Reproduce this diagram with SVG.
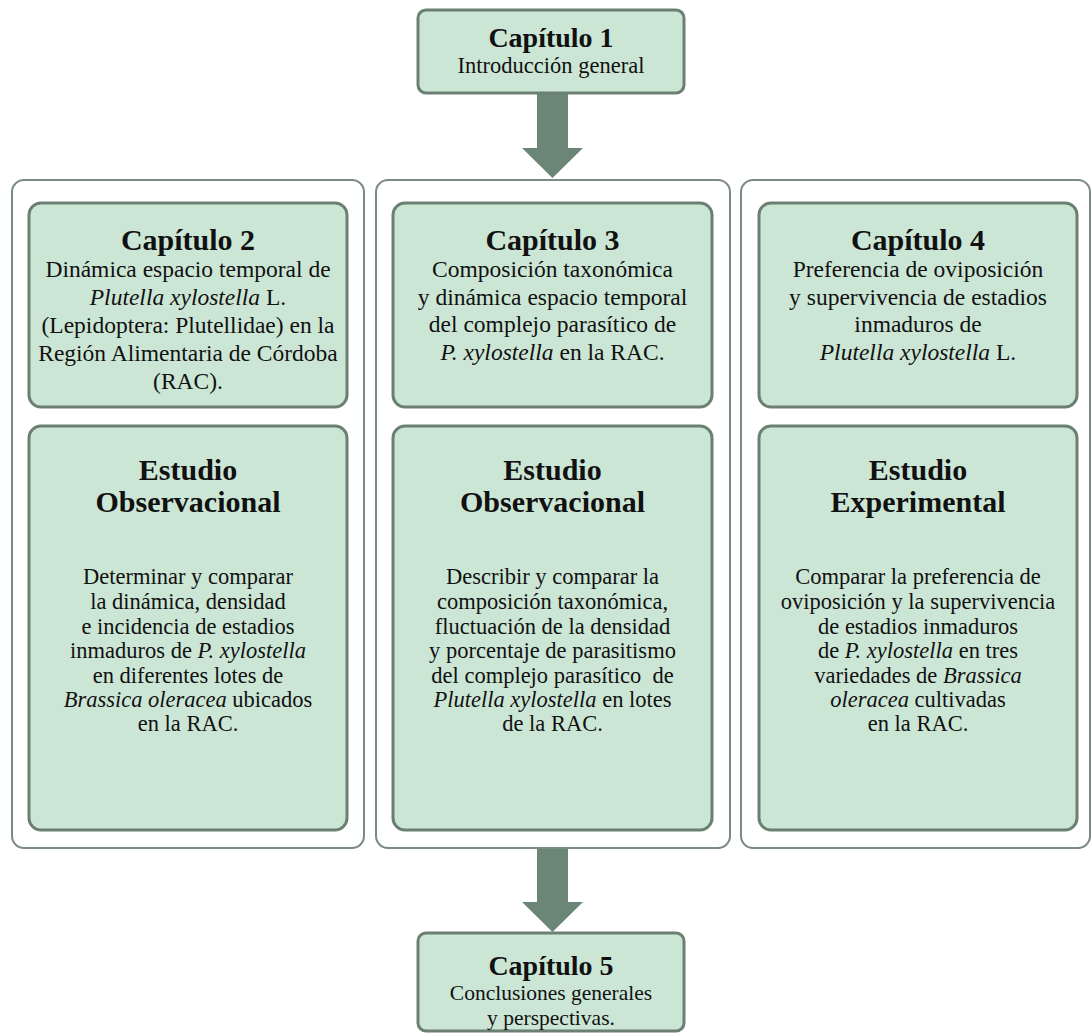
<svg xmlns="http://www.w3.org/2000/svg" width="1091" height="1036" viewBox="0 0 1091 1036">
<style>
.outer{fill:#fff;stroke:#7b8a82;stroke-width:2}
.box{fill:#cce6d6;stroke:#6b8073;stroke-width:3}
.arrow{fill:#6b8577}
text{font-family:"Liberation Serif","Times New Roman",serif;fill:#111;text-anchor:middle}
.h1{font-size:28px;font-weight:bold}
.h{font-size:30px;font-weight:bold}
.t{font-size:23.5px}
.s{font-size:22.5px}
.c5{font-size:21.5px}
.i{font-style:italic}
</style>
<rect width="1091" height="1036" fill="#fff"/>
<g id="col1"><rect class="outer" x="12" y="180" width="352" height="668" rx="12"/></g>
<g id="col2"><rect class="outer" x="376" y="180" width="354" height="668" rx="12"/></g>
<g id="col3"><rect class="outer" x="741" y="180" width="349" height="668" rx="12"/></g>

<g id="cap1">
<rect class="box" x="418" y="10" width="266" height="83" rx="8"/>
<text class="h1" x="551" y="47">Capítulo 1</text>
<text class="s" x="551" y="73">Introducción general</text>
</g>

<g id="cap2">
<rect class="box" x="29" y="203" width="318" height="204" rx="12"/>
<text class="h" x="188" y="250">Capítulo 2</text>
<text class="t" x="188" y="277">Dinámica espacio temporal de</text>
<text class="t" x="188" y="305"><tspan class="i">Plutella xylostella</tspan> L.</text>
<text class="t" x="188" y="333">(Lepidoptera: Plutellidae) en la</text>
<text class="t" x="188" y="361">Región Alimentaria de Córdoba</text>
<text class="t" x="188" y="389">(RAC).</text>
</g>

<g id="est2">
<rect class="box" x="29" y="426" width="318" height="404" rx="12"/>
<text class="h" x="188" y="480">Estudio</text>
<text class="h" x="188" y="512">Observacional</text>
<text class="s" x="188" y="584">Determinar y comparar</text>
<text class="s" x="188" y="609">la dinámica, densidad</text>
<text class="s" x="188" y="634">e incidencia de estadios</text>
<text class="s" x="188" y="658">inmaduros de <tspan class="i">P. xylostella</tspan></text>
<text class="s" x="188" y="683">en diferentes lotes de</text>
<text class="s" x="188" y="707"><tspan class="i">Brassica oleracea</tspan> ubicados</text>
<text class="s" x="188" y="731">en la RAC.</text>
</g>

<g id="cap3">
<rect class="box" x="393" y="203" width="319" height="204" rx="12"/>
<text class="h" x="552.5" y="250">Capítulo 3</text>
<text class="t" x="552.5" y="277">Composición taxonómica</text>
<text class="t" x="552.5" y="305">y dinámica espacio temporal</text>
<text class="t" x="552.5" y="332">del complejo parasítico de</text>
<text class="t" x="552.5" y="360"><tspan class="i">P. xylostella</tspan> en la RAC.</text>
</g>

<g id="est3">
<rect class="box" x="393" y="426" width="319" height="404" rx="12"/>
<text class="h" x="552.5" y="480">Estudio</text>
<text class="h" x="552.5" y="512">Observacional</text>
<text class="s" x="552.5" y="584">Describir y comparar la</text>
<text class="s" x="552.5" y="609">composición taxonómica,</text>
<text class="s" x="552.5" y="634">fluctuación de la densidad</text>
<text class="s" x="552.5" y="658">y porcentaje de parasitismo</text>
<text class="s" x="552.5" y="683" xml:space="preserve">del complejo parasítico  de</text>
<text class="s" x="552.5" y="707"><tspan class="i">Plutella xylostella</tspan> en lotes</text>
<text class="s" x="552.5" y="731">de la RAC.</text>
</g>

<g id="cap4">
<rect class="box" x="759" y="203" width="318" height="204" rx="12"/>
<text class="h" x="918" y="250">Capítulo 4</text>
<text class="t" x="918" y="277">Preferencia de oviposición</text>
<text class="t" x="918" y="305">y supervivencia de estadios</text>
<text class="t" x="918" y="332">inmaduros de</text>
<text class="t" x="918" y="360"><tspan class="i">Plutella xylostella</tspan> L.</text>
</g>

<g id="est4">
<rect class="box" x="759" y="426" width="318" height="404" rx="12"/>
<text class="h" x="918" y="480">Estudio</text>
<text class="h" x="918" y="512">Experimental</text>
<text class="s" x="918" y="584">Comparar la preferencia de</text>
<text class="s" x="918" y="609">oviposición y la supervivencia</text>
<text class="s" x="918" y="634">de estadios inmaduros</text>
<text class="s" x="918" y="658">de <tspan class="i">P. xylostella</tspan> en tres</text>
<text class="s" x="918" y="683">variedades de <tspan class="i">Brassica</tspan></text>
<text class="s" x="918" y="707"><tspan class="i">oleracea</tspan> cultivadas</text>
<text class="s" x="918" y="731">en la RAC.</text>
</g>

<g id="cap5">
<rect class="box" x="418" y="933" width="266" height="98" rx="8"/>
<text class="h1" x="551" y="975">Capítulo 5</text>
<text class="c5" x="551" y="1000">Conclusiones generales</text>
<text class="c5" x="551" y="1025">y perspectivas.</text>
</g>

<g id="connectors">
<polygon class="arrow" points="537,94 568,94 568,148 583,148 552.5,178 522,148 537,148"/>
<polygon class="arrow" points="537,849 568,849 568,902 583,902 552.5,932 522,902 537,902"/>
</g>
</svg>
